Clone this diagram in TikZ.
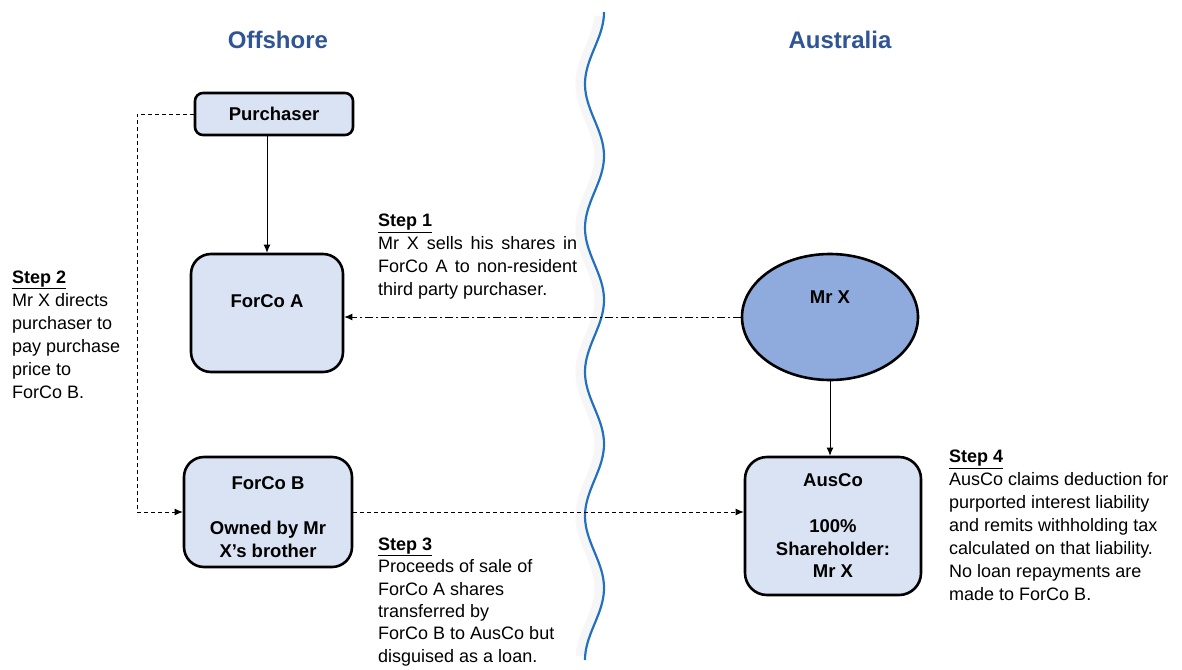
\documentclass[tikz,border=0pt]{standalone}
\usepackage{fontspec}
\setmainfont{Liberation Sans}
\usetikzlibrary{arrows.meta,shapes.geometric}
\definecolor{titleblue}{RGB}{47,85,151}
\definecolor{boxfill}{RGB}{218,227,243}
\definecolor{ellfill}{RGB}{143,170,220}
\definecolor{wavecol}{RGB}{33,113,190}
\tikzset{
  box/.style={draw, line width=2.6pt, fill=boxfill, inner sep=0pt, rounded corners=20pt},
  ell/.style={draw, ellipse, line width=2.6pt, fill=ellfill, inner sep=0pt, minimum width=176pt, minimum height=126pt},
  boxtxt/.style={font=\bfseries\fontsize{18.5}{23}\selectfont, inner sep=0pt, align=center},
  title/.style={font=\bfseries\fontsize{24}{28}\selectfont, text=titleblue, inner sep=0pt},
  steptxt/.style={anchor=north west, inner sep=0pt, align=left, font=\fontsize{18}{23}\selectfont},
  conn/.style={line width=0.9pt, -{Latex[length=8pt,width=7pt]}},
  dashconn/.style={conn, dash pattern=on 4pt off 3pt},
  dotconn/.style={conn, dash pattern=on 8pt off 3pt on 2pt off 3pt},
  wave/.style={draw=wavecol, line width=2.2pt},
}
\begin{document}
\begin{tikzpicture}[x=1pt,y=-1pt]
\useasboundingbox (0,0) rectangle (1182,669);
\fill[white] (0,0) rectangle (1182,669);

% titles
\node[title] (offshore) at (278,40) {Offshore};
\node[title] (australia) at (840,40) {Australia};

% wavy border with soft shadow
\draw[line width=8pt, gray!7] plot[domain=16:656, samples=160, smooth, variable=\t] ({589+9.5*cos((\t-12)*2.5)}, \t);
\draw[wave] plot[domain=12:660, samples=160, smooth, variable=\t] ({594.5+9.5*cos((\t-12)*2.5)}, \t);

% boxes
\node[box, rounded corners=8pt, minimum width=158pt, minimum height=42pt] (purch) at (274,114) {};
\node[boxtxt] (purchT) at (274,114) {Purchaser};

\node[box, minimum width=152pt, minimum height=118pt] (forcoA) at (267,313) {};
\node[boxtxt] (forcoAT) at (267,301) {ForCo A};

\node[box, minimum width=168pt, minimum height=110pt] (forcoB) at (268,512) {};
\node[boxtxt] (forcoBT) at (268,483) {ForCo B};
\node[boxtxt] (forcoBT2) at (268,539.5) {Owned by Mr\\X’s brother};

\node[ell] (mrx) at (830,317) {};
\node[boxtxt] (mrxT) at (830,297) {Mr X};

\node[box, rounded corners=22pt, minimum width=176pt, minimum height=138pt] (ausco) at (833,526) {};
\node[boxtxt] (auscoT) at (833,480) {AusCo};
\node[boxtxt, font=\bfseries\fontsize{18.5}{22.5}\selectfont] (auscoT2) at (833,549) {100\%\\Shareholder:\\Mr X};

% connectors
\draw[conn] (purch.south -| forcoA.north) -- (forcoA.north);
\draw[conn] (mrx.south) -- (mrx.south |- ausco.north);
\draw[dotconn] (mrx.west) -- (mrx.west -| forcoA.east);
\coordinate (c2a) at (137,114);
\coordinate (c2b) at (137,512);
\draw[dashconn] (purch.west) -- (c2a) -- (c2b) -- (forcoB.west);
\draw[dashconn] (forcoB.east) -- (forcoB.east -| ausco.west);

% step texts
\node[steptxt] (s1) at (378,214) {\textbf{\underline{Step 1}}\\
\makebox[199pt][s]{Mr X sells his shares in}\\
\makebox[199pt][s]{ForCo A to non-resident}\\
third party purchaser.};

\node[steptxt] (s2) at (12,270.5) {\textbf{\underline{Step 2}}\\
Mr X directs\\
purchaser to\\
pay purchase\\
price to\\
ForCo B.};

\node[steptxt, font=\fontsize{18}{22.4}\selectfont] (s3) at (378,537.5) {\textbf{\underline{Step 3}}\\
Proceeds of sale of\\
ForCo A shares\\
transferred by\\
ForCo B to AusCo but\\
disguised as a loan.};

\node[steptxt] (s4) at (949,450) {\textbf{\underline{Step 4}}\\
AusCo claims deduction for\\
purported interest liability\\
and remits withholding tax\\
calculated on that liability.\\
No loan repayments are\\
made to ForCo B.};
\end{tikzpicture}
\end{document}
